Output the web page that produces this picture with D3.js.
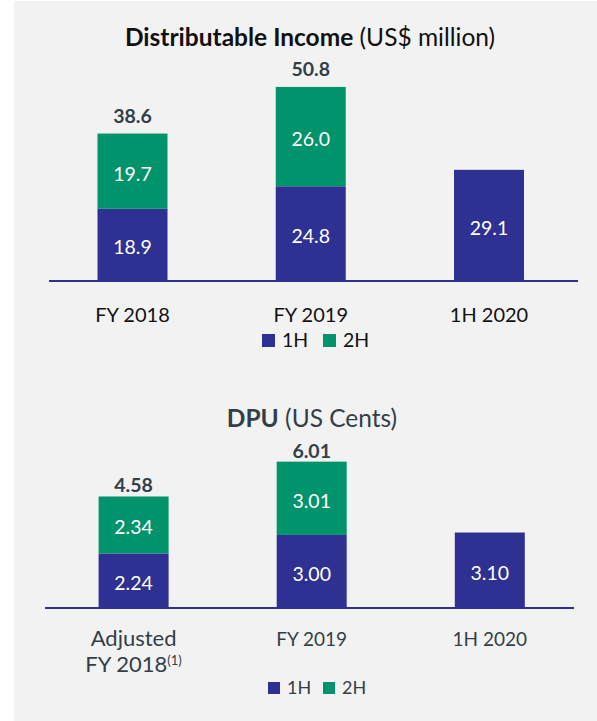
<!DOCTYPE html>
<html>
<head>
<meta charset="utf-8">
<script src="https://cdn.jsdelivr.net/npm/d3@7"></script>
<style>
  html, body { margin: 0; padding: 0; background: #ffffff; }
  svg { display: block; }
  text { font-family: Lato, "Open Sans", sans-serif; }
</style>
</head>
<body>
<svg id="chart" width="597" height="721"></svg>
<script>
// ---- Data ----
const incomeCategories = ["FY 2018", "FY 2019", "1H 2020"];
const income1H = [18.9, 24.8, 29.1];
const income2H = [19.7, 26.0, null];
const incomeTotal = [38.6, 50.8, null];

const dpuCategories = ["Adjusted|FY 2018", "FY 2019", "1H 2020"];
const dpu1H = [2.24, 3.00, 3.10];
const dpu2H = [2.34, 3.01, null];
const dpuTotal = [4.58, 6.01, null];

const seriesNames = ["1H", "2H"];

// ---- Styles ----
const NAVY = "#2e3192";
const GREEN = "#00936c";
const svg = d3.select("#chart");

svg.append("rect").attr("x", 14).attr("y", 1).attr("width", 583).attr("height", 720).attr("fill", "#f2f2f2");

function drawPanel(opts) {
  const g = svg.append("g");
  const x = d3.scalePoint().domain(opts.categories).range([opts.x0, opts.x1]);
  const y = d3.scaleLinear().domain([0, opts.yMax]).range([opts.base, opts.yTop]);
  const barW = 70;

  const rows = opts.categories.map((c, i) => ({ c, h1: opts.s1[i], h2: opts.s2[i], t: opts.total[i] }));

  // title
  const t = g.append("text").attr("x", opts.titleX).attr("y", opts.titleY)
    .attr("text-anchor", "middle").attr("fill", opts.titleColor).attr("font-size", opts.titleSize);
  t.append("tspan").attr("font-weight", 700).text(opts.titleBold);
  t.append("tspan").attr("font-weight", 400).text(opts.titleRest);

  // 1H bars
  g.selectAll(".b1").data(rows).join("rect")
    .attr("x", d => x(d.c) - barW / 2).attr("width", barW)
    .attr("y", d => y(d.h1)).attr("height", d => y(0) - y(d.h1))
    .attr("fill", NAVY);
  // 2H bars
  g.selectAll(".b2").data(rows.filter(d => d.h2 != null)).join("rect")
    .attr("x", d => x(d.c) - barW / 2).attr("width", barW)
    .attr("y", d => y(d.h1 + d.h2)).attr("height", d => y(d.h1) - y(d.h1 + d.h2))
    .attr("fill", GREEN);

  // segment labels
  g.selectAll(".l1").data(rows).join("text")
    .attr("x", d => x(d.c)).attr("y", d => (y(0) + y(d.h1)) / 2 + opts.segDy)
    .attr("text-anchor", "middle").attr("fill", "#ffffff").attr("font-size", opts.segSize)
    .text(d => opts.fmt(d.h1));
  g.selectAll(".l2").data(rows.filter(d => d.h2 != null)).join("text")
    .attr("x", d => x(d.c)).attr("y", d => (y(d.h1) + y(d.h1 + d.h2)) / 2 + opts.segDy)
    .attr("text-anchor", "middle").attr("fill", "#ffffff").attr("font-size", opts.segSize)
    .text(d => opts.fmt(d.h2));
  // totals
  g.selectAll(".lt").data(rows.filter(d => d.t != null)).join("text")
    .attr("x", d => x(d.c)).attr("y", d => y(d.t) - opts.totalGap)
    .attr("text-anchor", "middle").attr("fill", "#333f48").attr("font-weight", 700)
    .attr("font-size", opts.segSize).text(d => opts.fmt(d.t));

  // baseline axis
  const axis = d3.axisBottom(x).tickSize(0).tickFormat("");
  const ag = g.append("g").attr("transform", `translate(0,${opts.base})`).call(axis);
  ag.select(".domain").attr("d", `M${opts.axisL},0H${opts.axisR}`)
    .attr("stroke", NAVY).attr("stroke-width", 2.2);

  // category labels
  opts.categories.forEach((c, ci) => {
    const lines = c.split("|");
    const size = ci === 0 && opts.firstCatSize ? opts.firstCatSize : opts.catSize;
    const tx = g.append("text").attr("x", x(c)).attr("y", opts.base + opts.catDy)
      .attr("text-anchor", "middle").attr("fill", opts.catColor).attr("font-size", size);
    lines.forEach((ln, i) => {
      tx.append("tspan").attr("x", x(c)).attr("dy", i === 0 ? 0 : opts.catLine).text(ln);
      if (opts.footnote && i === lines.length - 1 && ci === 0) {
        tx.append("tspan").attr("font-size", 13).attr("dy", -7).text("(1)");
      }
    });
  });

  // legend
  const lg = g.append("g").attr("transform", `translate(${opts.legX},${opts.legY})`);
  seriesNames.forEach((s, i) => {
    const xo = i * opts.legStep;
    lg.append("rect").attr("x", xo).attr("y", -opts.sq).attr("width", opts.sq).attr("height", opts.sq)
      .attr("fill", i === 0 ? NAVY : GREEN);
    lg.append("text").attr("x", xo + opts.sq + 7).attr("y", 0).attr("font-size", opts.legSize)
      .attr("fill", opts.catColor).text(s);
  });
}

drawPanel({
  categories: incomeCategories, s1: income1H, s2: income2H, total: incomeTotal,
  x0: 132.5, x1: 489, base: 281, yTop: 90, yMax: 50, axisL: 49, axisR: 578,
  fmt: d3.format(".1f"),
  titleX: 310, titleY: 46, titleSize: 24.5, titleColor: "#111111",
  titleBold: "Distributable Income", titleRest: " (US$ million)",
  segSize: 19.5, segDy: 9.5, totalGap: 11,
  catSize: 20, catDy: 41, catLine: 26, catColor: "#111111",
  legX: 262, legY: 347, legStep: 61, sq: 13, legSize: 19.5
});

drawPanel({
  categories: dpuCategories, s1: dpu1H, s2: dpu2H, total: dpuTotal,
  x0: 133.6, x1: 489.8, base: 608, yTop: 461.9, yMax: 6, axisL: 45, axisR: 574,
  fmt: d3.format(".2f"),
  titleX: 312, titleY: 427, titleSize: 24.5, titleColor: "#333f48",
  titleBold: "DPU", titleRest: " (US Cents)",
  segSize: 19.5, segDy: 9.5, totalGap: 4,
  catSize: 19, firstCatSize: 22, catDy: 38, catLine: 26, catColor: "#333f48", footnote: true,
  legX: 268, legY: 694, legStep: 55, sq: 12, legSize: 18
});
</script>
</body>
</html>
